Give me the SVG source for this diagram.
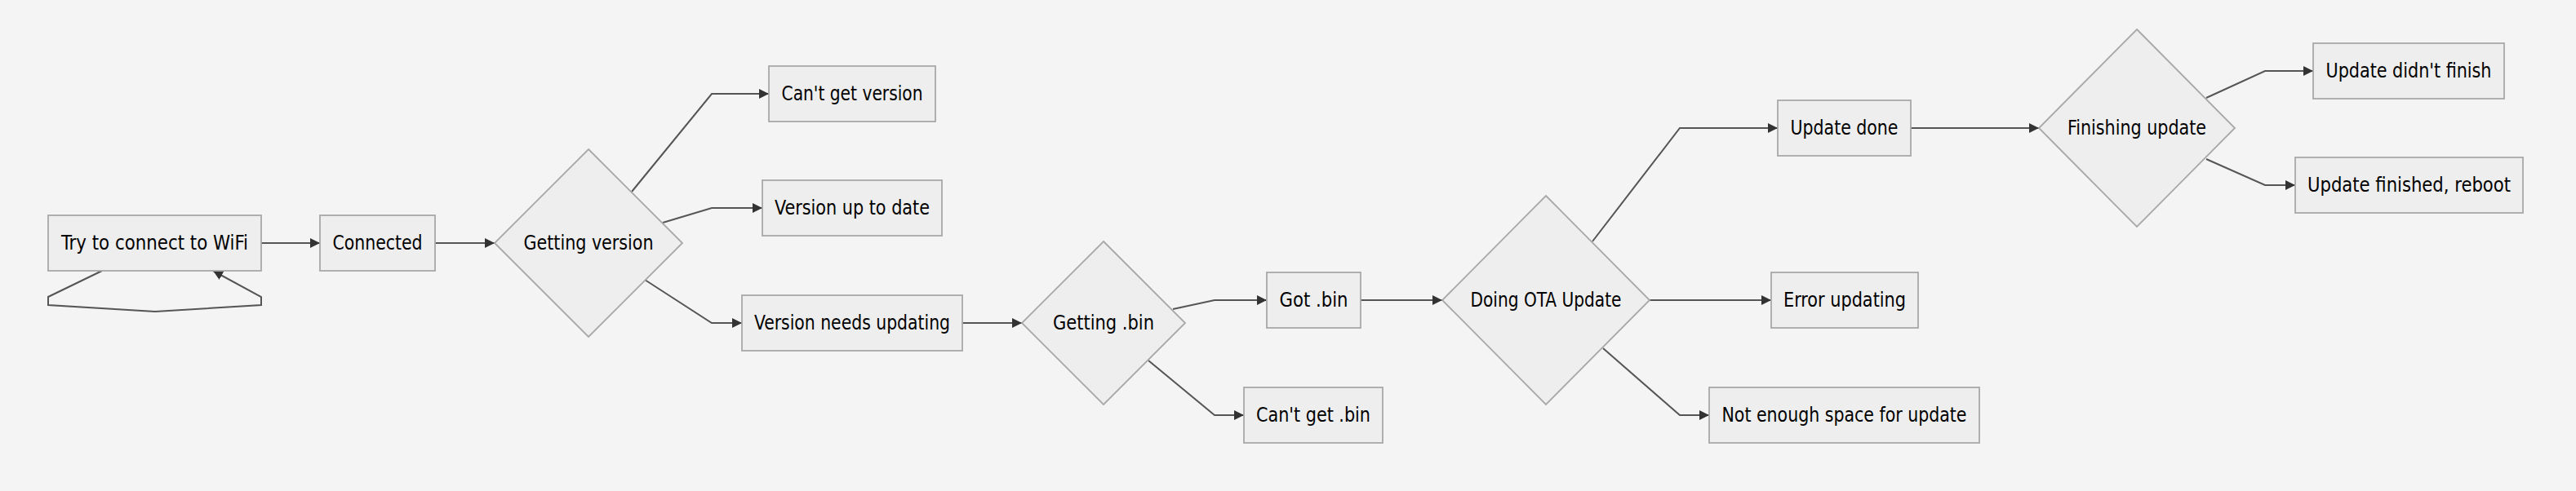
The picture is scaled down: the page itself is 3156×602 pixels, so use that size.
<svg xmlns="http://www.w3.org/2000/svg" width="3156" height="602" viewBox="0 0 3156 602">
<defs>
<marker id="arr" viewBox="0 0 12 12" refX="12" refY="6" markerWidth="12" markerHeight="12" markerUnits="userSpaceOnUse" orient="auto">
<path d="M0,0 L12,6 L0,12 z" fill="#333333"/>
</marker>
<style>
.node rect, .node polygon { fill: #eeeeee; stroke: #a8a8a8; stroke-width: 1.8; }
.node text { font-family: 'DejaVu Sans Condensed', 'DejaVu Sans', sans-serif; font-stretch: condensed; font-size: 24px; fill: #000000; text-anchor: middle; }
.edge { fill: none; stroke: #555555; stroke-width: 2; marker-end: url(#arr); }
</style>
</defs>
<rect x="0" y="0" width="3156" height="602" fill="#f4f4f4"/>
<g id="connectors">
<path class="edge" d="M320,298 L392,298"/>
<path class="edge" d="M125,332 L59,364 L59,374 L190,382 L320,374 L320,364 L261,332"/>
<path class="edge" d="M533,298 L606,298"/>
<path class="edge" d="M774,235 L872,115 L942,115"/>
<path class="edge" d="M812,273 L872,255 L934,255"/>
<path class="edge" d="M790,343 L872,396 L909,396"/>
<path class="edge" d="M1179,396 L1252,396"/>
<path class="edge" d="M1437,379 L1488,368 L1552,368"/>
<path class="edge" d="M1407,442 L1488,509 L1524,509"/>
<path class="edge" d="M1667,368 L1767,368"/>
<path class="edge" d="M1951,296 L2058,157 L2178,157"/>
<path class="edge" d="M2021,368 L2170,368"/>
<path class="edge" d="M1964,427 L2058,509 L2094,509"/>
<path class="edge" d="M2341,157 L2498,157"/>
<path class="edge" d="M2703,120 L2775,87 L2834,87"/>
<path class="edge" d="M2703,195 L2775,227 L2812,227"/>
</g>
<g id="wifi" class="node"><rect x="59" y="264" width="261" height="68"/><text x="189.5" y="306" textLength="229" lengthAdjust="spacingAndGlyphs">Try to connect to WiFi</text></g>
<g id="connected" class="node"><rect x="392" y="264" width="141" height="68"/><text x="462.5" y="306" textLength="110" lengthAdjust="spacingAndGlyphs">Connected</text></g>
<g id="getver" class="node"><polygon points="721,183 836,298 721,413 606,298"/><text x="721" y="306" textLength="159" lengthAdjust="spacingAndGlyphs">Getting version</text></g>
<g id="cantver" class="node"><rect x="942" y="81" width="204" height="68"/><text x="1044" y="123" textLength="173" lengthAdjust="spacingAndGlyphs">Can't get version</text></g>
<g id="uptodate" class="node"><rect x="934" y="221" width="220" height="68"/><text x="1044" y="263" textLength="190" lengthAdjust="spacingAndGlyphs">Version up to date</text></g>
<g id="needsupd" class="node"><rect x="909" y="362" width="270" height="68"/><text x="1044" y="404" textLength="240" lengthAdjust="spacingAndGlyphs">Version needs updating</text></g>
<g id="getbin" class="node"><polygon points="1352,296 1452,396 1352,496 1252,396"/><text x="1352" y="404" textLength="124" lengthAdjust="spacingAndGlyphs">Getting .bin</text></g>
<g id="gotbin" class="node"><rect x="1552" y="334" width="115" height="68"/><text x="1609.5" y="376" textLength="84" lengthAdjust="spacingAndGlyphs">Got .bin</text></g>
<g id="cantbin" class="node"><rect x="1524" y="475" width="170" height="68"/><text x="1609" y="517" textLength="140" lengthAdjust="spacingAndGlyphs">Can't get .bin</text></g>
<g id="ota" class="node"><polygon points="1894,240 2021,368 1894,496 1767,368"/><text x="1894" y="376" textLength="185" lengthAdjust="spacingAndGlyphs">Doing OTA Update</text></g>
<g id="updone" class="node"><rect x="2178" y="123" width="163" height="68"/><text x="2259.5" y="165" textLength="132" lengthAdjust="spacingAndGlyphs">Update done</text></g>
<g id="error" class="node"><rect x="2170" y="334" width="180" height="68"/><text x="2260" y="376" textLength="150" lengthAdjust="spacingAndGlyphs">Error updating</text></g>
<g id="nospace" class="node"><rect x="2094" y="475" width="331" height="68"/><text x="2259.5" y="517" textLength="300" lengthAdjust="spacingAndGlyphs">Not enough space for update</text></g>
<g id="finishing" class="node"><polygon points="2618,36 2738,157 2618,278 2498,157"/><text x="2618" y="165" textLength="170" lengthAdjust="spacingAndGlyphs">Finishing update</text></g>
<g id="didnt" class="node"><rect x="2834" y="53" width="234" height="68"/><text x="2951" y="95" textLength="203" lengthAdjust="spacingAndGlyphs">Update didn't finish</text></g>
<g id="reboot" class="node"><rect x="2812" y="193" width="279" height="68"/><text x="2951.5" y="235" textLength="249" lengthAdjust="spacingAndGlyphs">Update finished, reboot</text></g>
</svg>
